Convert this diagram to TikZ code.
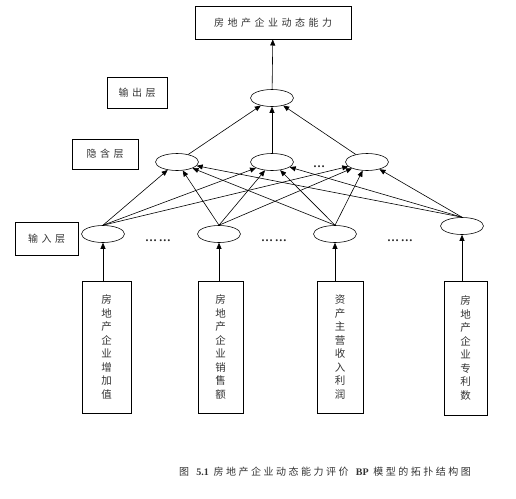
\documentclass[tikz,border=0pt]{standalone}
\usepackage{fontspec}
\setmainfont{Liberation Serif}
\newfontfamily\cjk[LetterSpace=35]{Noto Sans CJK SC}
\newfontfamily\cjkcap[LetterSpace=25]{Noto Sans CJK SC}
\newfontfamily\cjkv{Noto Sans CJK SC}
\usetikzlibrary{shapes.geometric,arrows.meta}
\begin{document}
\begin{tikzpicture}[x=1pt,y=-1pt,
  neuron/.style={ellipse,draw,minimum width=43pt,minimum height=17pt,inner sep=0pt,line width=0.6pt},
  labelbox/.style={draw,line width=1pt,inner sep=0pt,font=\cjk\fontsize{10}{12}\selectfont,text=black!80},
  inbox/.style={draw,line width=1pt,inner sep=0pt,align=center,font=\cjkv\fontsize{10.5}{13.5}\selectfont,text=black!80},
  conn/.style={line width=0.6pt,-{Triangle[length=6pt,width=5pt]}},
  dots/.style={font=\bfseries\fontsize{12}{14}\selectfont,text=black!85}
]
\useasboundingbox (0,0) rectangle (516,498);
% top box
\node[labelbox,minimum width=156pt,minimum height=33pt] (top) at (273,22.5) {房地产企业动态能力};
% layer labels
\node[labelbox,minimum width=60pt,minimum height=31pt] (lout) at (137,92.5) {输出层};
\node[labelbox,minimum width=66pt,minimum height=30pt] (lhid) at (105,154) {隐含层};
\node[labelbox,minimum width=63pt,minimum height=33pt] (lin) at (46.5,238.5) {输入层};
% neurons
\node[neuron] (o) at (272,98) {};
\node[neuron] (h1) at (177,162) {};
\node[neuron] (h2) at (272,162) {};
\node[neuron] (h3) at (367,162) {};
\node[neuron] (i1) at (103,234) {};
\node[neuron] (i2) at (219,234) {};
\node[neuron] (i3) at (335,234) {};
\node[neuron] (i4) at (462,226) {};
% dots
\node[dots] (d0) at (319,167) {\ldots};
\node[dots] (d1) at (158,241) {\ldots\,\ldots};
\node[dots] (d2) at (274,241) {\ldots\,\ldots};
\node[dots] (d3) at (400,241) {\ldots\,\ldots};
% input boxes
\node[inbox,minimum width=49pt,minimum height=132pt] (b1) at (106.5,347) {房\\地\\产\\企\\业\\增\\加\\值};
\node[inbox,minimum width=45pt,minimum height=132pt] (b2) at (220.5,347) {房\\地\\产\\企\\业\\销\\售\\额};
\node[inbox,minimum width=46pt,minimum height=132pt] (b3) at (340,347) {资\\产\\主\\营\\收\\入\\利\\润};
\node[inbox,minimum width=43pt,minimum height=134pt] (b4) at (465.5,348) {房\\地\\产\\企\\业\\专\\利\\数};
% connections
\draw[conn] (o) -- (top);
\foreach \h in {h1,h2,h3} \draw[conn] (\h) -- (o);
\foreach \i in {i1,i2,i3,i4}
  \foreach \h in {h1,h2,h3}
    \draw[conn] (\i.north) -- (\h);
\draw[conn] (i1 |- b1.north) -- (i1);
\draw[conn] (i2 |- b2.north) -- (i2);
\draw[conn] (i3 |- b3.north) -- (i3);
\draw[conn] (i4 |- b4.north) -- (i4);
% caption
\node[anchor=west,inner sep=0pt,font=\cjkcap\fontsize{10}{12}\selectfont,text=black!80] (cap) at (179,472) {图 \textbf{\rmfamily 5.1} 房地产企业动态能力评价 \textbf{\rmfamily BP} 模型的拓扑结构图};
\end{tikzpicture}
\end{document}
